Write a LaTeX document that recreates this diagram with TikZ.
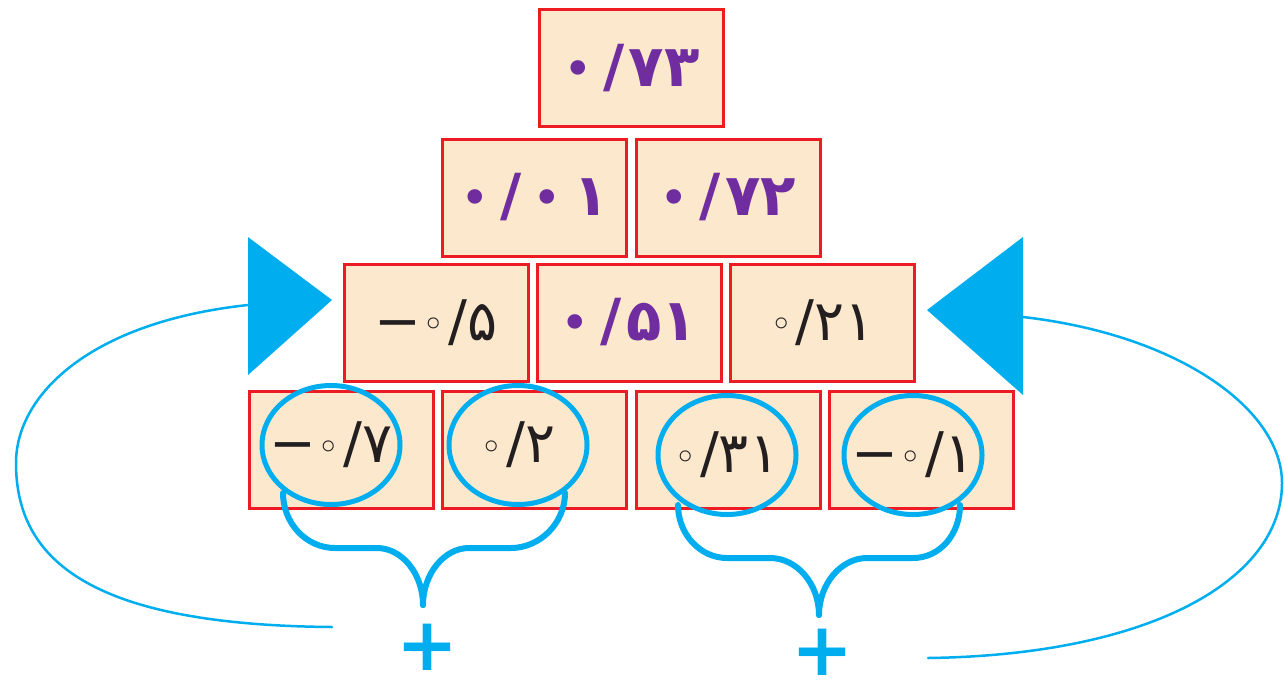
\documentclass[tikz,border=0pt]{standalone}
\usepackage{fontspec}
\usetikzlibrary{shapes.geometric,calc}
\newfontfamily\fa{DejaVu Sans}
\newfontfamily\fab{DejaVu Sans Bold}
\definecolor{cyanb}{HTML}{00AEEF}
\definecolor{boxred}{HTML}{ED1C24}
\definecolor{boxfill}{HTML}{FCE8CC}
\definecolor{numpurple}{HTML}{6F2DA0}
\definecolor{numblack}{HTML}{231F20}
\tikzset{
  cell/.style={draw=boxred, fill=boxfill, line width=3pt, minimum width=184pt, minimum height=117pt, inner sep=0pt},
  pnum/.style={font=\fab\fontsize{58}{60}\selectfont, text=numpurple},
  bnum/.style={font=\fa\fontsize{56}{60}\selectfont, text=numblack},
  ring/.style={ellipse, draw=cyanb, line width=5pt, minimum width=138pt, minimum height=119pt, inner sep=0pt},
  bracel/.style={draw=cyanb, line width=6pt, line cap=round},
  loopl/.style={draw=cyanb, line width=2.5pt, line cap=round},
  tri/.style={fill=cyanb},
  plus/.style={font=\fab\fontsize{74}{74}\selectfont, text=cyanb, inner sep=0pt}
}
\newcommand{\zr}{\raisebox{0.05em}{\fa\fontsize{38}{40}\selectfont ◦}}
\newcommand{\zp}{{\fa\fontsize{50}{50}\selectfont •}}
\newcommand{\mn}{−\hspace{0.02em}}
\newcommand{\gp}{\hspace{0.18em}}
\begin{document}
\begin{tikzpicture}[x=1pt,y=-1pt]
\useasboundingbox (0,0) rectangle (1284,686);
% row 1
\node[cell, pnum] (r1) at (631.5,68) {\makebox[0pt]{\zp\gp/\hspace{0.08em}۷۳}};
% row 2
\node[cell, pnum] (r2a) at (534.5,197.5) {\makebox[0pt]{\zp\gp/\gp\zp\hspace{0.2em}۱}};
\node[cell, pnum] (r2b) at (728,197.5) {\makebox[0pt]{\zp\gp/\hspace{0.08em}۷۲}};
% row 3
\node[cell, bnum] (r3a) at (436,322.5) {\makebox[0pt]{\mn\zr\hspace{0.05em}/۵}};
\node[cell, pnum] (r3b) at (629,322.5) {\makebox[0pt]{\zp\gp/\hspace{0.08em}۵۱}};
\node[cell, bnum] (r3c) at (822.5,322.5) {\makebox[0pt]{\zr\hspace{0.05em}/۲۱}};
% row 4 cells
\node[cell] (r4a) at (341,450) {};
\node[cell] (r4b) at (534,450) {};
\node[cell] (r4c) at (728,450) {};
\node[cell] (r4d) at (921,450) {};
% braces
\coordinate (tipL) at (423,605);
\coordinate (tipR) at (819,615);
\draw[bracel] ($(r4a.center)+(-58,43)$) .. controls (283,523) and (306,548) .. (335,548) -- (377,548) .. controls (402,548) and (423,574) .. (tipL);
\draw[bracel] (tipL) .. controls (423,574) and (444,548) .. (469,548) -- (511,548) .. controls (540,548) and (565,523) .. ($(r4b.center)+(31,43)$);
\draw[bracel] ($(r4c.center)+(-50,55)$) .. controls (678,534) and (700,558) .. (727,558) -- (770,558) .. controls (797,558) and (819,584) .. (tipR);
\draw[bracel] (tipR) .. controls (819,584) and (841,558) .. (867,558) -- (913,558) .. controls (940,558) and (960,534) .. ($(r4d.center)+(39,55)$);
% ellipses with numbers
\node[ring, bnum] (e1) at (331,445) {\makebox[0pt]{\mn\zr\hspace{0.05em}/۷}};
\node[ring, bnum] (e2) at (518,445) {\makebox[0pt]{\zr\hspace{0.05em}/۲}};
\node[ring, bnum] (e3) at (727,455) {\makebox[0pt]{\zr\hspace{0.05em}/۳۱}};
\node[ring, bnum] (e4) at (913,455) {\makebox[0pt]{\mn\zr\hspace{0.05em}/۱}};
% plus signs
\node[plus] (p1) at (427,647) {+};
\node[plus] (p2) at (822,652) {+};
% arrowheads
\coordinate (tl1) at (248,237);
\coordinate (tl2) at (332,300);
\coordinate (tl3) at (248,375);
\coordinate (tr1) at (1023,237);
\coordinate (tr2) at (927,310);
\coordinate (tr3) at (1023,395);
\fill[tri] (tl1) -- (tl2) -- (tl3) -- cycle;
\fill[tri] (tr1) -- (tr2) -- (tr3) -- cycle;
% loops
\coordinate (lsL) at (332,627);
\coordinate (lsR) at (928,658);
\draw[loopl] (lsL) .. controls (90,625) and (16,560) .. (16,463) .. controls (16,395) and (90,322) .. (248,305);
\draw[loopl] (lsR) .. controls (1150,655) and (1282,580) .. (1282,483) .. controls (1282,410) and (1180,335) .. (1023,317);
\end{tikzpicture}
\end{document}
